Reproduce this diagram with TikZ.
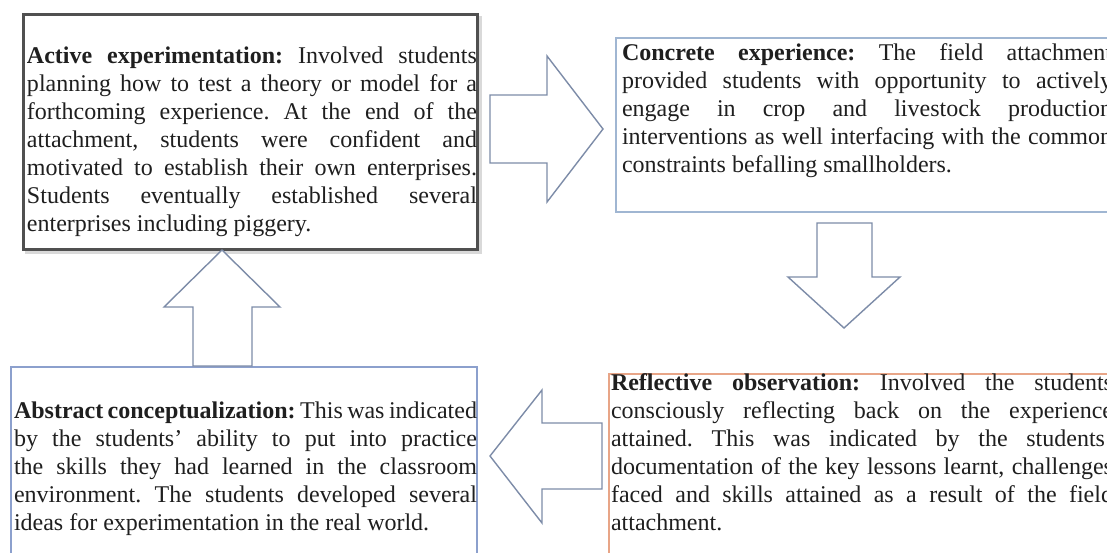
\documentclass[tikz,border=0pt]{standalone}
\usepackage{fontspec}
\setmainfont{Liberation Serif}
\definecolor{tlborder}{RGB}{80,80,80}
\definecolor{trborder}{RGB}{160,182,210}
\definecolor{blborder}{RGB}{140,160,205}
\definecolor{brborder}{RGB}{232,165,135}
\definecolor{arrowline}{RGB}{125,140,168}
\newlength{\jwidth}
\newcommand{\jline}[1]{\hbox to \jwidth{\spaceskip=0.25em plus 1.5em minus 0.15em\xspaceskip=\spaceskip\relax #1}}
\newcommand{\lastline}[1]{\hbox{\spaceskip=0.25em\relax #1}}
\begin{document}
\begin{tikzpicture}[x=1pt,y=-1pt,
  bodytext/.style={anchor=base west, inner sep=0pt, outer sep=0pt, align=left,
    font=\fontsize{24pt}{28pt}\selectfont\frenchspacing, text=black!88},
  boxframe/.style={anchor=north west, inner sep=0pt, outer sep=0pt, fill=white},
  blockarrow/.style={draw=arrowline, line width=1.4pt, fill=white, line join=miter}]
\useasboundingbox (0,0) rectangle (1107,552);
\clip (0,0) rectangle (1107,552);
\fill[white] (0,0) rectangle (1107,552);

% boxes
\draw[black!15, line width=3pt] (26,17) rectangle (480,252);
\node[boxframe, draw=tlborder, line width=3pt, minimum width=454pt, minimum height=235pt] (tl) at (23,14) {};
\node[boxframe, draw=trborder, line width=2.5pt, minimum width=520pt, minimum height=174pt] (tr) at (616,38) {};
\node[boxframe, draw=blborder, line width=1.8pt, minimum width=466pt, minimum height=200pt] (bl) at (11,367) {};
\node[boxframe, draw=brborder, line width=2.5pt, minimum width=520pt, minimum height=200pt] (br) at (609,374) {};

% block arrows
\draw[blockarrow] (490,95) -- (547,95) -- (547,56) -- (603,129) -- (547,202) -- (547,163) -- (490,163) -- cycle;
\draw[blockarrow] (817,223) -- (872,223) -- (872,277) -- (900,277) -- (844,328) -- (788,277) -- (817,277) -- cycle;
\draw[blockarrow] (602,423) -- (602,489) -- (542,489) -- (542,523) -- (490,456) -- (542,390) -- (542,423) -- cycle;
\draw[blockarrow] (193,366) -- (193,307) -- (164,307) -- (222,250) -- (280,307) -- (252,307) -- (252,366) -- cycle;

% texts
\node[bodytext, text width=450pt] (tltext) at (27,63) {\setlength{\jwidth}{450pt}%
\jline{\textbf{Active experimentation:} Involved students}
\jline{planning how to test a theory or model for a}
\jline{forthcoming experience. At the end of the}
\jline{attachment, students were confident and}
\jline{motivated to establish their own enterprises.}
\jline{Students eventually established several}
\lastline{enterprises including piggery.}};

\node[bodytext, text width=490pt] (trtext) at (622,60) {\setlength{\jwidth}{490pt}%
\jline{\textbf{Concrete experience:} The field attachment}
\jline{provided students with opportunity to actively}
\jline{engage in crop and livestock production}
\jline{interventions as well interfacing with the common}
\lastline{constraints befalling smallholders.}};

\node[bodytext, text width=502pt] (brtext) at (611,390) {\setlength{\jwidth}{502pt}%
\jline{\textbf{Reflective observation:} Involved the students}
\jline{consciously reflecting back on the experience}
\jline{attained. This was indicated by the students’}
\jline{documentation of the key lessons learnt, challenges}
\jline{faced and skills attained as a result of the field}
\lastline{attachment.}};

\node[bodytext, text width=463pt] (bltext) at (14,418) {\setlength{\jwidth}{463pt}%
\jline{\textbf{Abstract conceptualization:} This was indicated}
\jline{by the students’ ability to put into practice}
\jline{the skills they had learned in the classroom}
\jline{environment. The students developed several}
\lastline{ideas for experimentation in the real world.}};
\end{tikzpicture}
\end{document}
